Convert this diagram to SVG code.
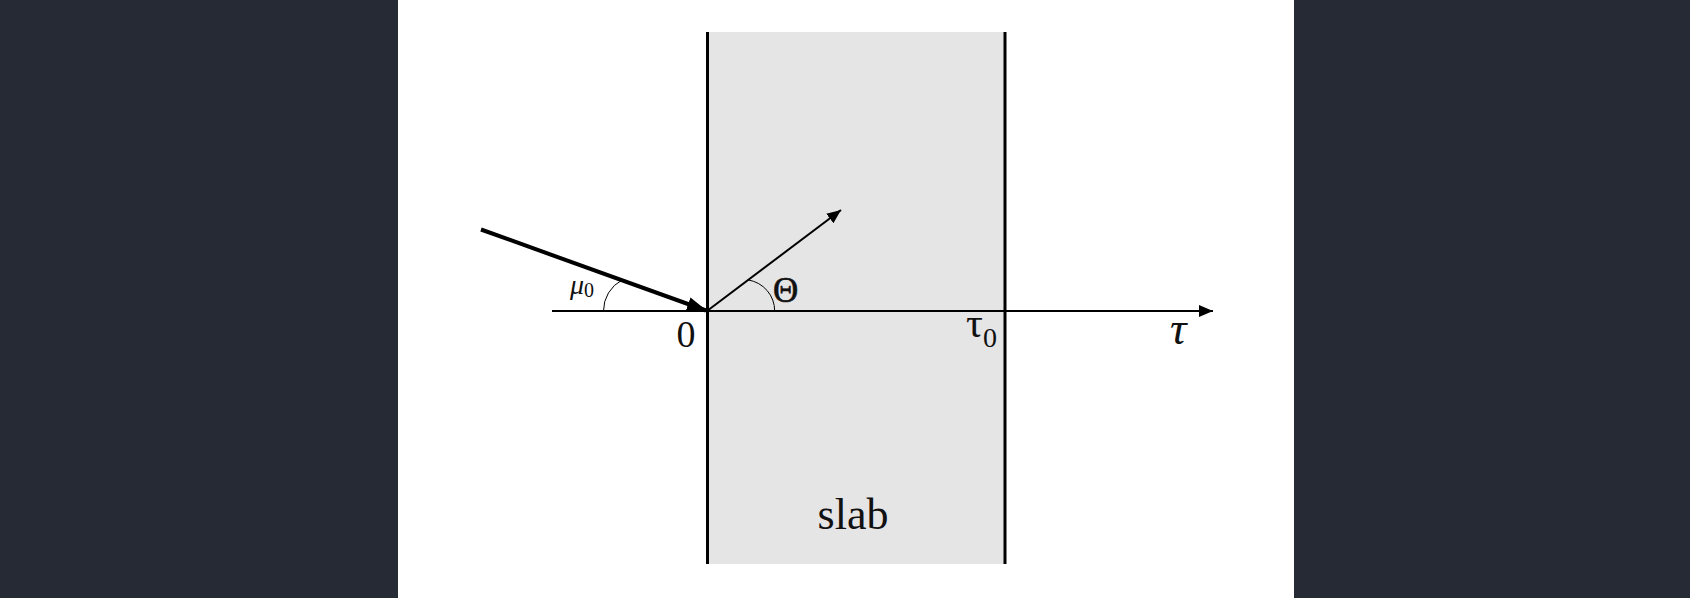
<svg xmlns="http://www.w3.org/2000/svg" width="1690" height="598" viewBox="0 0 1690 598">
<defs>
<style>
text{font-family:'Liberation Serif','Times New Roman',Times,serif;fill:#111}
.ln{stroke:#000;fill:none}
</style>
<marker id="ah" markerWidth="14" markerHeight="12" refX="14" refY="6" orient="auto" markerUnits="userSpaceOnUse"><path d="M0,0 L14,6 L0,12 Z" fill="#000"/></marker>
<marker id="ahb" markerWidth="20" markerHeight="14" refX="19" refY="7" orient="auto" markerUnits="userSpaceOnUse"><path d="M0,0 L20,7 L0,14 Z" fill="#000"/></marker>
</defs>
<rect x="0" y="0" width="1690" height="598" fill="#262a35"/>
<rect x="398" y="0" width="896" height="598" fill="#ffffff"/>
<g id="slab">
<rect x="707" y="32" width="298" height="532" fill="#e6e5e6"/>
<line class="ln" x1="707.5" y1="32" x2="707.5" y2="564" stroke-width="3"/>
<line class="ln" x1="1005" y1="32" x2="1005" y2="564" stroke-width="3"/>
<text font-family="Liberation Serif, serif" x="853" y="529" font-size="44" text-anchor="middle">slab</text>
</g>
<g id="connectors">
<line class="ln" x1="552" y1="311" x2="1213" y2="311" stroke-width="2" marker-end="url(#ah)"/>
<line class="ln" x1="481" y1="229.5" x2="706" y2="310.5" stroke-width="4" marker-end="url(#ahb)"/>
<line class="ln" x1="707" y1="311" x2="841" y2="210" stroke-width="2" marker-end="url(#ah)"/>
<path class="ln" d="M603.5,311 A35,35 0 0 1 622,280" stroke-width="1"/>
<path class="ln" d="M774.7,311 A31.4,31.4 0 0 0 748.3,280" stroke-width="1"/>
</g>
<g id="labels">
<text font-family="Liberation Serif, serif" x="686" y="347" font-size="38" text-anchor="middle">0</text>
<text font-family="Liberation Serif, serif" x="773" y="302" font-size="35" stroke="#111" stroke-width="0.6">Θ</text>
<text font-family="Liberation Serif, serif" x="966" y="337" font-size="42">τ<tspan font-size="28" dy="10">0</tspan></text>
<text font-family="Liberation Serif, serif" x="1170" y="344" font-size="46" font-style="italic">τ</text>
<text font-family="Liberation Serif, serif" x="570" y="294" font-size="28" font-style="italic">μ<tspan font-size="20" font-style="normal" dy="3">0</tspan></text>
</g>
</svg>
